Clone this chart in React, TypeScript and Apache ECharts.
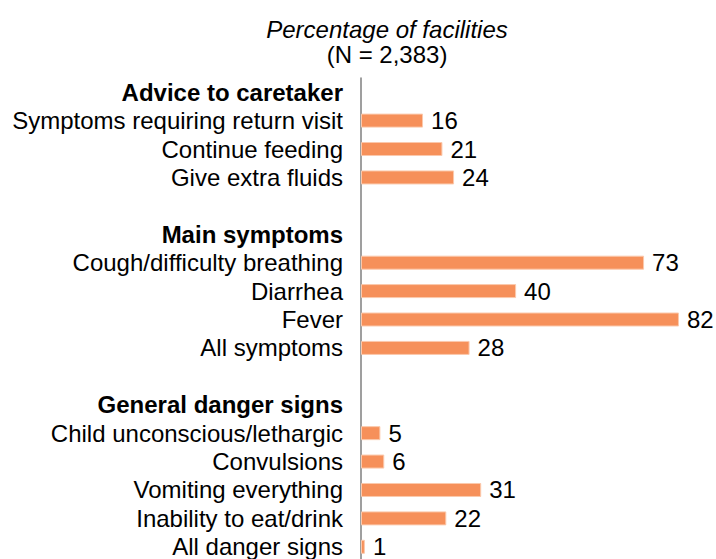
import React, { useEffect, useRef } from "react";
import * as echarts from "echarts";

const categories: string[] = [
  "Advice to caretaker",
  "Symptoms requiring return visit",
  "Continue feeding",
  "Give extra fluids",
  " ",
  "Main symptoms",
  "Cough/difficulty breathing",
  "Diarrhea",
  "Fever",
  "All symptoms",
  "  ",
  "General danger signs",
  "Child unconscious/lethargic",
  "Convulsions",
  "Vomiting everything",
  "Inability to eat/drink",
  "All danger signs",
];

const headers: string[] = ["Advice to caretaker", "Main symptoms", "General danger signs"];

const values: (number | null)[] = [
  null, 16, 21, 24,
  null,
  null, 73, 40, 82, 28,
  null,
  null, 5, 6, 31, 22, 1,
];

const titleLine1 = "Percentage of facilities";
const titleLine2 = "(N = 2,383)";

const FONT = "'Liberation Sans', Arial, Helvetica, sans-serif";

export default function App() {
  const ref = useRef<HTMLDivElement>(null);
  useEffect(() => {
    if (!ref.current) return;
    const chart = echarts.init(ref.current, null, { renderer: "svg" });
    chart.setOption({
      animation: false,
      backgroundColor: "#ffffff",
      textStyle: { fontFamily: FONT },
      title: {
        text: `{i|${titleLine1}}\n{n|${titleLine2}}`,
        left: 382,
        textAlign: "center",
        top: 12,
        textStyle: {
          fontWeight: "normal",
          rich: {
            i: { fontFamily: FONT, fontSize: 24, fontStyle: "italic", fontWeight: "normal", color: "#000", lineHeight: 25 },
            n: { fontFamily: FONT, fontSize: 24, fontWeight: "normal", color: "#000", lineHeight: 25 },
          },
        },
      },
      grid: {
        left: 361,
        top: 78,
        width: 349,
        height: 483,
        outerBoundsMode: "none",
        containLabel: false,
      },
      xAxis: {
        type: "value",
        min: 0,
        max: 90,
        show: false,
        splitLine: { show: false },
      },
      yAxis: {
        type: "category",
        data: categories,
        inverse: true,
        axisTick: { show: false },
        axisLine: { show: true, lineStyle: { color: "#7f7f7f", width: 1.5 } },
        axisLabel: {
          interval: 0,
          margin: 18,
          fontFamily: FONT,
          fontSize: 24,
          color: "#000",
          formatter: (v: string) => (headers.includes(v) ? `{b|${v}}` : v),
          rich: {
            b: { fontFamily: FONT, fontSize: 24, fontWeight: "bold", color: "#000" },
          },
        },
      },
      series: [
        {
          type: "bar",
          data: values,
          barWidth: 14,
          itemStyle: { color: "#F6905A", borderColor: "#FBC9AC", borderWidth: 1 },
          label: {
            show: true,
            position: "right",
            distance: 8,
            fontFamily: FONT,
            fontSize: 24,
            color: "#000",
          },
        },
      ],
    });
    return () => chart.dispose();
  }, []);
  return (
    <div
      ref={ref}
      style={{ position: "fixed", left: 0, top: 0, width: 716, height: 559 }}
    />
  );
}
